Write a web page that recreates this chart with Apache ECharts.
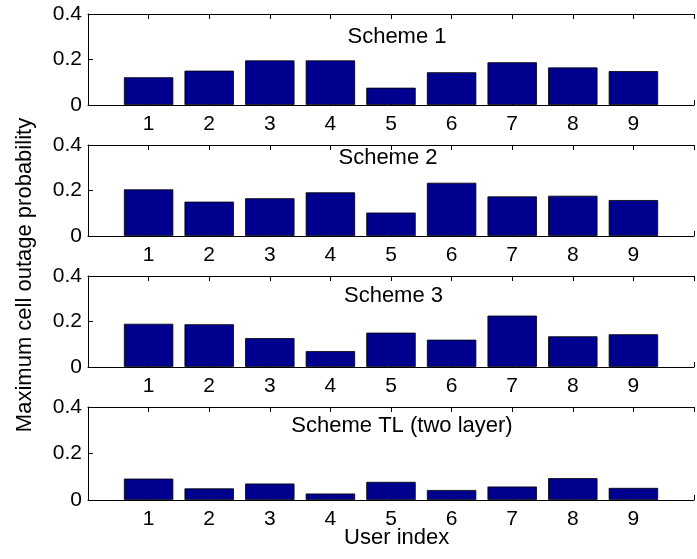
<!DOCTYPE html>
<html>
<head>
<meta charset="utf-8">
<script src="https://cdn.jsdelivr.net/npm/echarts@6/dist/echarts.min.js"></script>
<style>html,body{margin:0;padding:0;background:#fff;}#c{width:697px;height:559px;}</style>
</head>
<body>
<div id="c"></div>
<script>
// ---- data ----
var users = [1, 2, 3, 4, 5, 6, 7, 8, 9];
var titles = ['Scheme 1', 'Scheme 2', 'Scheme 3', 'Scheme TL (two layer)'];
var scheme1 = [0.122, 0.151, 0.196, 0.196, 0.076, 0.144, 0.188, 0.165, 0.149];
var scheme2 = [0.205, 0.151, 0.166, 0.192, 0.103, 0.234, 0.174, 0.177, 0.158];
var scheme3 = [0.190, 0.188, 0.127, 0.070, 0.151, 0.120, 0.226, 0.135, 0.144];
var schemeTL = [0.092, 0.050, 0.071, 0.028, 0.078, 0.043, 0.058, 0.094, 0.052];
var yTicks = [0, 0.2, 0.4];
var xLabel = 'User index';
var yLabel = 'Maximum cell outage probability';

// ---- layout ----
var series_data = [scheme1, scheme2, scheme3, schemeTL];
var gridLeft = 88, gridWidth = 617.5;
var gridTops = [14, 145, 276, 407];
var gridHeights = [91, 91, 91, 93];
var titlePos = [[397, 36.7], [388, 157.7], [393.5, 296], [402, 426]];
var FONT = 'Liberation Sans, Arial, Helvetica, sans-serif';
var FS = 21;
var FS_TXT = 22;
var barColor = '#00008f';

var grids = [], xAxes = [], yAxes = [], series = [], graphics = [];
for (var i = 0; i < 4; i++) {
  grids.push({left: gridLeft, top: gridTops[i], width: gridWidth, height: gridHeights[i], containLabel: false});
  // bottom x axis with labels
  xAxes.push({
    type: 'value', gridIndex: i, min: 0, max: 10, interval: 1, position: 'bottom',
    axisLine: {show: true, onZero: false, lineStyle: {color: '#000', width: 1}},
    axisTick: {show: true, inside: true, length: 5, lineStyle: {color: '#000'}},
    axisLabel: {show: true, margin: 9, color: '#000', fontSize: FS, fontFamily: FONT,
      formatter: function (v) { return (v >= 1 && v <= 9) ? String(v) : ''; }},
    splitLine: {show: false}
  });
  // top x axis (box)
  xAxes.push({
    type: 'value', gridIndex: i, min: 0, max: 10, interval: 1, position: 'top',
    axisLine: {show: true, onZero: false, lineStyle: {color: '#000', width: 1}},
    axisTick: {show: true, inside: true, length: 5, lineStyle: {color: '#000'}},
    axisLabel: {show: false}, splitLine: {show: false}
  });
  yAxes.push({
    type: 'value', gridIndex: i, min: yTicks[0], max: yTicks[yTicks.length - 1], interval: yTicks[1] - yTicks[0],
    axisLine: {show: true, onZero: false, lineStyle: {color: '#000', width: 1}},
    axisTick: {show: true, inside: true, length: 5, lineStyle: {color: '#000'}},
    axisLabel: {show: true, margin: 6, color: '#000', fontSize: FS, fontFamily: FONT},
    splitLine: {show: false}
  });
  series.push({
    type: 'bar', xAxisIndex: 2 * i, yAxisIndex: i,
    data: users.map(function (u, k) { return [u, series_data[i][k]]; }),
    barWidth: 0.8 * gridWidth / 10,
    itemStyle: {color: barColor, borderColor: '#000', borderWidth: 0.8},
    z: 3, animation: false
  });
  graphics.push({
    type: 'text', x: titlePos[i][0], y: titlePos[i][1], z: 10,
    style: {text: titles[i], fill: '#000', fontSize: FS_TXT, fontFamily: FONT, align: 'center', verticalAlign: 'middle'}
  });
}
graphics.push({
  type: 'text', x: 396.7, y: 538, z: 10,
  style: {text: xLabel, fill: '#000', fontSize: FS_TXT, fontFamily: FONT, align: 'center', verticalAlign: 'middle'}
});
graphics.push({
  type: 'text', x: 25, y: 275, rotation: Math.PI / 2, z: 10,
  style: {text: yLabel, fill: '#000', fontSize: FS_TXT, fontFamily: FONT, align: 'center', verticalAlign: 'middle'}
});

var chart = echarts.init(document.getElementById('c'), null, {renderer: 'canvas'});
chart.setOption({
  animation: false,
  backgroundColor: '#fff',
  grid: grids, xAxis: xAxes, yAxis: yAxes, series: series, graphic: graphics
});
</script>
</body>
</html>
